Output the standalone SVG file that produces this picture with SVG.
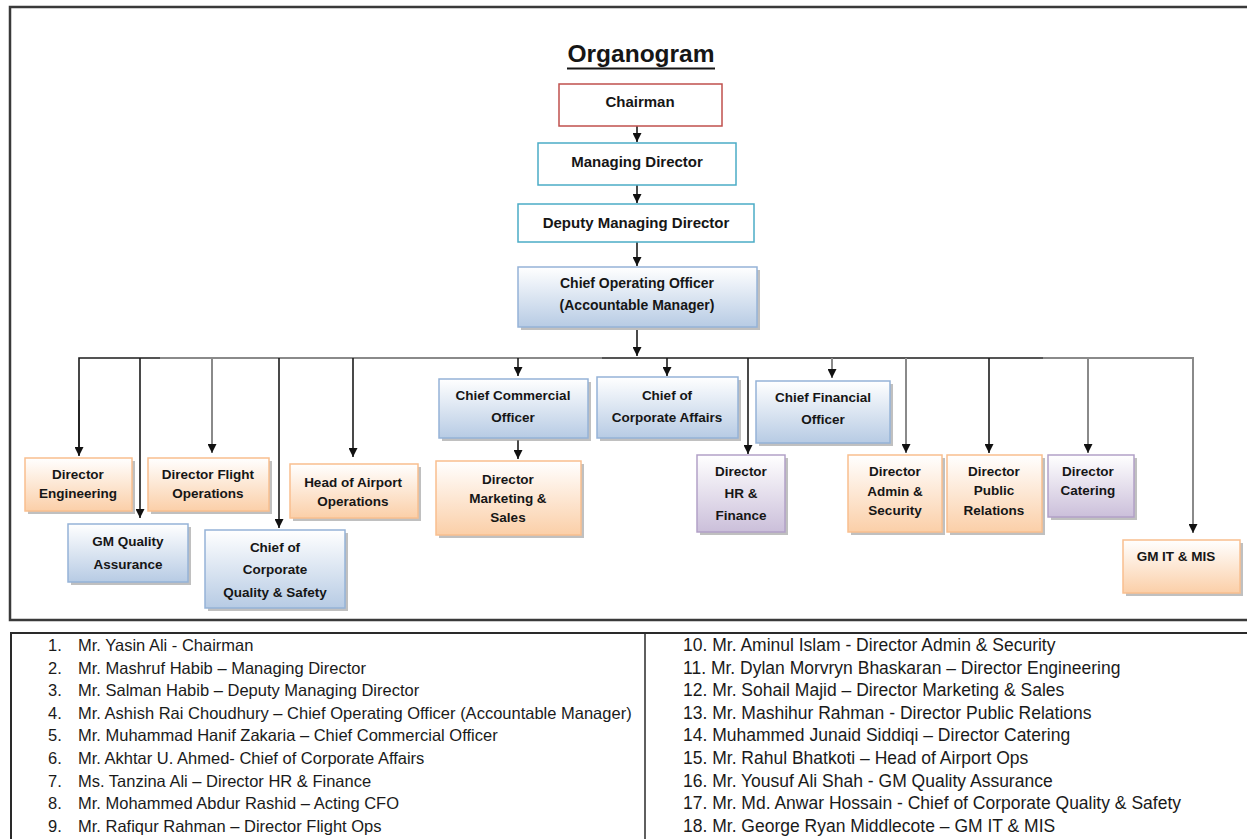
<svg xmlns="http://www.w3.org/2000/svg" width="1247" height="839" viewBox="0 0 1247 839">
<defs>
<linearGradient id="gBlue" x1="0" y1="0" x2="0" y2="1"><stop offset="0" stop-color="#ffffff"/><stop offset="1" stop-color="#b7cbe4"/></linearGradient>
<linearGradient id="gOrange" x1="0" y1="0" x2="0" y2="1"><stop offset="0" stop-color="#ffffff"/><stop offset="1" stop-color="#fbcfa8"/></linearGradient>
<linearGradient id="gPurple" x1="0" y1="0" x2="0" y2="1"><stop offset="0" stop-color="#ffffff"/><stop offset="1" stop-color="#cbbfda"/></linearGradient>
<marker id="arr" viewBox="0 0 10 10" refX="10" refY="5" markerWidth="9" markerHeight="9" markerUnits="userSpaceOnUse" orient="auto"><path d="M0,0 L10,5 L0,10 z" fill="#111"/></marker>
<style>
.frame{fill:none;stroke:#3a3a3a;stroke-width:2.5}
.shadow{fill:#8c8c8c;opacity:.55}
.blue{fill:url(#gBlue);stroke:#95b3d7;stroke-width:1.5}
.orange{fill:url(#gOrange);stroke:#f9bf8f;stroke-width:1.5}
.purple{fill:url(#gPurple);stroke:#b2a1c7;stroke-width:1.5}
.red{fill:#fff;stroke:#c0504d;stroke-width:1.5}
.teal{fill:#fff;stroke:#4bacc6;stroke-width:1.5}
.t{font-family:"Liberation Sans",Arial,sans-serif;font-weight:bold;fill:#161616;text-anchor:middle;font-size:13.5px}
.t15{font-size:15px}
.t14{font-size:14px}
.dk{stroke:#1c1c1c;stroke-width:1.6;fill:none}
.gr{stroke:#8a8a8a;stroke-width:2;fill:none}
.ar{marker-end:url(#arr)}
.li{font-family:"Liberation Sans",Arial,sans-serif;font-size:16.5px;fill:#1a1a1a}
.ri{font-size:17.5px}
</style>
</defs>
<rect width="1247" height="839" fill="#fff"/>
<rect class="frame" x="10" y="7" width="1250" height="613"/>
<g id="title">
<text x="641" y="62" font-family="Liberation Sans,Arial,sans-serif" font-weight="bold" font-size="24.5" text-anchor="middle" fill="#161616">Organogram</text>
<line x1="567" y1="68.5" x2="715" y2="68.5" stroke="#161616" stroke-width="2"/>
</g>
<g id="connectors">
<line class="dk ar" x1="637" y1="126" x2="637" y2="142"/>
<line class="dk ar" x1="637" y1="185" x2="637" y2="203"/>
<line class="dk ar" x1="637" y1="242" x2="637" y2="266"/>
<line class="dk ar" x1="637" y1="330" x2="637" y2="356"/>
<polyline class="dk" points="79,455 79,358 160,358"/>
<line class="gr" x1="160" y1="358" x2="602" y2="358"/>
<line class="dk" x1="602" y1="358" x2="1043" y2="358"/>
<polyline class="gr" points="1043,358 1193,358 1193,532"/>
<line class="dk ar" x1="79" y1="400" x2="79" y2="456"/>
<line class="dk ar" x1="140" y1="358" x2="140" y2="518"/>
<line class="gr ar" x1="212" y1="358" x2="212" y2="453"/>
<line class="dk ar" x1="279" y1="358" x2="279" y2="528"/>
<line class="dk ar" x1="353" y1="358" x2="353" y2="457"/>
<line class="dk ar" x1="518" y1="358" x2="518" y2="376"/>
<line class="dk ar" x1="667" y1="358" x2="667" y2="376"/>
<line class="dk ar" x1="748" y1="358" x2="748" y2="454"/>
<line class="gr ar" x1="832" y1="358" x2="832" y2="378"/>
<line class="gr ar" x1="906" y1="358" x2="906" y2="453"/>
<line class="dk ar" x1="989" y1="358" x2="989" y2="453"/>
<line class="gr ar" x1="1088" y1="358" x2="1088" y2="453"/>
<line class="gr ar" x1="1193" y1="500" x2="1193" y2="533"/>
<line class="dk ar" x1="518" y1="440" x2="518" y2="459"/>
</g>
<g id="chairman"><rect class="red" x="559" y="84" width="163" height="42"/><text class="t t15" x="640" y="107">Chairman</text></g>
<g id="managing-director"><rect class="teal" x="538" y="143" width="198" height="42"/><text class="t t15" x="637" y="167">Managing Director</text></g>
<g id="deputy-managing-director"><rect class="teal" x="518" y="204" width="236" height="38"/><text class="t t15" x="636" y="228">Deputy Managing Director</text></g>
<g id="coo"><rect class="shadow" x="521" y="270" width="239" height="60"/><rect class="blue" x="518" y="267" width="239" height="60"/><text class="t t14" x="637" y="288">Chief Operating Officer</text><text class="t t14" x="637" y="310">(Accountable Manager)</text></g>
<g id="director-engineering"><rect class="shadow" x="28" y="461" width="107" height="53"/><rect class="orange" x="25" y="458" width="107" height="53"/><text class="t" x="78" y="479">Director</text><text class="t" x="78" y="498">Engineering</text></g>
<g id="gm-quality-assurance"><rect class="shadow" x="71" y="527" width="120" height="58"/><rect class="blue" x="68" y="524" width="120" height="58"/><text class="t" x="128" y="546">GM Quality</text><text class="t" x="128" y="569">Assurance</text></g>
<g id="director-flight-operations"><rect class="shadow" x="151" y="461" width="121" height="53"/><rect class="orange" x="148" y="458" width="121" height="53"/><text class="t" x="208" y="479">Director Flight</text><text class="t" x="208" y="498">Operations</text></g>
<g id="chief-corporate-quality-safety"><rect class="shadow" x="208" y="533" width="140" height="78"/><rect class="blue" x="205" y="530" width="140" height="78"/><text class="t" x="275" y="552">Chief of</text><text class="t" x="275" y="574">Corporate</text><text class="t" x="275" y="597">Quality &amp; Safety</text></g>
<g id="head-airport-operations"><rect class="shadow" x="293" y="467" width="128" height="54"/><rect class="orange" x="290" y="464" width="128" height="54"/><text class="t" x="353" y="487">Head of Airport</text><text class="t" x="353" y="506">Operations</text></g>
<g id="chief-commercial-officer"><rect class="shadow" x="442" y="382" width="149" height="59"/><rect class="blue" x="439" y="379" width="149" height="59"/><text class="t" x="513" y="400">Chief Commercial</text><text class="t" x="513" y="422">Officer</text></g>
<g id="chief-corporate-affairs"><rect class="shadow" x="600" y="380" width="141" height="61"/><rect class="blue" x="597" y="377" width="141" height="61"/><text class="t" x="667" y="400">Chief of</text><text class="t" x="667" y="422">Corporate Affairs</text></g>
<g id="director-marketing-sales"><rect class="shadow" x="439" y="464" width="145" height="74"/><rect class="orange" x="436" y="461" width="145" height="74"/><text class="t" x="508" y="484">Director</text><text class="t" x="508" y="503">Marketing &amp;</text><text class="t" x="508" y="522">Sales</text></g>
<g id="director-hr-finance"><rect class="shadow" x="700" y="458" width="88" height="77"/><rect class="purple" x="697" y="455" width="88" height="77"/><text class="t" x="741" y="476">Director</text><text class="t" x="741" y="498">HR &amp;</text><text class="t" x="741" y="520">Finance</text></g>
<g id="chief-financial-officer"><rect class="shadow" x="759" y="384" width="134" height="62"/><rect class="blue" x="756" y="381" width="134" height="62"/><text class="t" x="823" y="402">Chief Financial</text><text class="t" x="823" y="424">Officer</text></g>
<g id="director-admin-security"><rect class="shadow" x="851" y="458" width="94" height="77"/><rect class="orange" x="848" y="455" width="94" height="77"/><text class="t" x="895" y="476">Director</text><text class="t" x="895" y="496">Admin &amp;</text><text class="t" x="895" y="515">Security</text></g>
<g id="director-public-relations"><rect class="shadow" x="950" y="458" width="95" height="77"/><rect class="orange" x="947" y="455" width="95" height="77"/><text class="t" x="994" y="476">Director</text><text class="t" x="994" y="495">Public</text><text class="t" x="994" y="515">Relations</text></g>
<g id="director-catering"><rect class="shadow" x="1051" y="458" width="86" height="62"/><rect class="purple" x="1048" y="455" width="86" height="62"/><text class="t" x="1088" y="476">Director</text><text class="t" x="1088" y="495">Catering</text></g>
<g id="gm-it-mis"><rect class="shadow" x="1126" y="543" width="117" height="53"/><rect class="orange" x="1123" y="540" width="117" height="53"/><text class="t" x="1176" y="561">GM IT &amp; MIS</text></g>
<g id="name-list">
<polyline fill="none" stroke="#2a2a2a" stroke-width="2" points="11,845 11,633 1250,633"/>
<line x1="645" y1="633" x2="645" y2="845" stroke="#2a2a2a" stroke-width="1.5"/>
<g class="li">
<text x="48" y="651">1.</text><text x="78" y="651">Mr. Yasin Ali - Chairman</text>
<text x="48" y="673.6">2.</text><text x="78" y="673.6">Mr. Mashruf Habib – Managing Director</text>
<text x="48" y="696.2">3.</text><text x="78" y="696.2">Mr. Salman Habib – Deputy Managing Director</text>
<text x="48" y="718.8">4.</text><text x="78" y="718.8">Mr. Ashish Rai Choudhury – Chief Operating Officer (Accountable Manager)</text>
<text x="48" y="741.4">5.</text><text x="78" y="741.4">Mr. Muhammad Hanif Zakaria – Chief Commercial Officer</text>
<text x="48" y="764">6.</text><text x="78" y="764">Mr. Akhtar U. Ahmed- Chief of Corporate Affairs</text>
<text x="48" y="786.6">7.</text><text x="78" y="786.6">Ms. Tanzina Ali – Director HR &amp; Finance</text>
<text x="48" y="809.2">8.</text><text x="78" y="809.2">Mr. Mohammed Abdur Rashid – Acting CFO</text>
<text x="48" y="831.8">9.</text><text x="78" y="831.8">Mr. Rafiqur Rahman – Director Flight Ops</text>
<text class="ri" x="683" y="651">10. Mr. Aminul Islam - Director Admin &amp; Security</text>
<text class="ri" x="683" y="673.6">11. Mr. Dylan Morvryn Bhaskaran – Director Engineering</text>
<text class="ri" x="683" y="696.2">12. Mr. Sohail Majid – Director Marketing &amp; Sales</text>
<text class="ri" x="683" y="718.8">13. Mr. Mashihur Rahman - Director Public Relations</text>
<text class="ri" x="683" y="741.4">14. Muhammed Junaid Siddiqi – Director Catering</text>
<text class="ri" x="683" y="764">15. Mr. Rahul Bhatkoti – Head of Airport Ops</text>
<text class="ri" x="683" y="786.6">16. Mr. Yousuf Ali Shah - GM Quality Assurance</text>
<text class="ri" x="683" y="809.2">17. Mr. Md. Anwar Hossain - Chief of Corporate Quality &amp; Safety</text>
<text class="ri" x="683" y="831.8">18. Mr. George Ryan Middlecote – GM IT &amp; MIS</text>
</g>
</g>
</svg>
